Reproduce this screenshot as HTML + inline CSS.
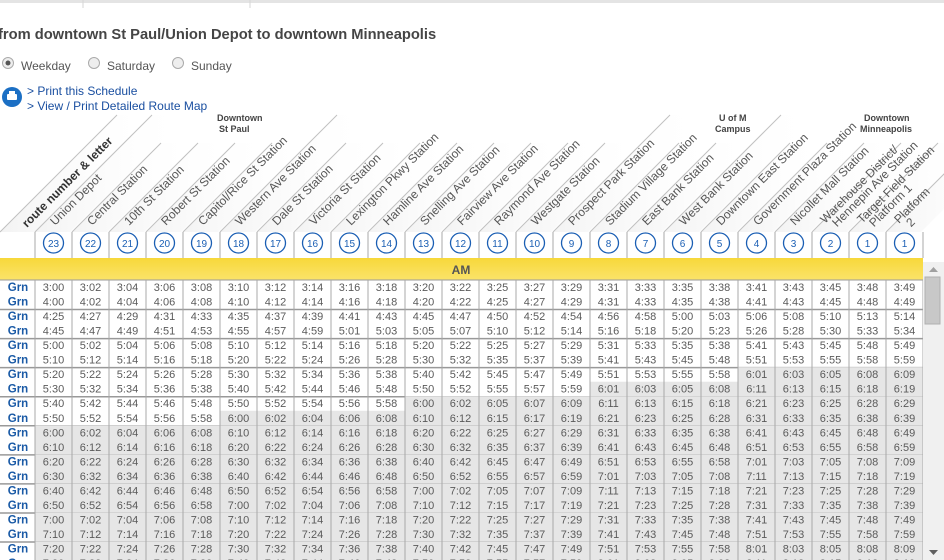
<!DOCTYPE html>
<html><head><meta charset="utf-8">
<style>
html,body{margin:0;padding:0;background:#fff;width:944px;height:560px;overflow:hidden;font-family:"Liberation Sans",Arial,sans-serif;}
svg{position:absolute;left:0;top:0;}
</style></head>
<body>
<svg id="s" width="944" height="560" viewBox="0 0 944 560">
<defs>
<linearGradient id="sh" x1="0" y1="0" x2="1" y2="0">
<stop offset="0" stop-color="#d8d8d8" stop-opacity="0.9"/><stop offset="1" stop-color="#fff" stop-opacity="0"/>
</linearGradient>
<linearGradient id="yl" x1="0" y1="0" x2="0" y2="1">
<stop offset="0" stop-color="#f7d83a"/><stop offset="1" stop-color="#fbe36a"/>
</linearGradient>
</defs>
<rect x="0" y="0" width="944" height="3" fill="#e4e4e4"/>
<line x1="83" y1="0" x2="83" y2="8" stroke="#d6d6d6"/>
<line x1="250" y1="0" x2="250" y2="8" stroke="#d6d6d6"/>
<text x="-2" y="39" font-size="14.7" font-weight="bold" fill="#454545">from downtown St Paul/Union Depot to downtown Minneapolis</text>
<g>
<circle cx="8" cy="63" r="5.5" fill="#eee" stroke="#aaa"/><circle cx="8" cy="63" r="2.5" fill="#555"/>
<text x="21" y="70" font-size="12" fill="#555">Weekday</text></g>
<g>
<circle cx="94" cy="63" r="5.5" fill="#eee" stroke="#aaa"/>
<text x="107" y="70" font-size="12" fill="#555">Saturday</text></g>
<g>
<circle cx="178" cy="63" r="5.5" fill="#eee" stroke="#aaa"/>
<text x="191" y="70" font-size="12" fill="#555">Sunday</text></g>
<g>
<circle cx="12" cy="97" r="10" fill="#1b6fc4"/>
<rect x="7" y="94" width="10" height="6" rx="1" fill="#fff"/><rect x="9" y="91" width="6" height="3" fill="#fff"/>
</g>
<text x="27" y="95" font-size="12" fill="#1a4fa0">&gt; Print this Schedule</text>
<text x="27" y="110" font-size="12" fill="#1a4fa0">&gt; View / Print Detailed Route Map</text>
<text font-size="9" font-weight="bold" fill="#444"><tspan x="217" y="121">Downtown</tspan><tspan x="219" y="132">St Paul</tspan></text>
<text font-size="9" font-weight="bold" fill="#444"><tspan x="719" y="121">U of M</tspan><tspan x="715" y="132">Campus</tspan></text>
<text font-size="9" font-weight="bold" fill="#444"><tspan x="864" y="121">Downtown</tspan><tspan x="860" y="132">Minneapolis</tspan></text>
<g id="hdr"></g>
<g id="body"></g>
<g>
<rect x="923" y="262" width="21" height="298" fill="#f0f0f0"/>
<path d="M929 272 L933.5 267 L938 272 Z" fill="#a0a0a0"/>
<rect x="925" y="277" width="15" height="47" fill="#c8c8c8" stroke="#b0b0b0"/>
<path d="M929 550 L933.5 555 L938 550 Z" fill="#606060"/>
</g>
</svg>
<script>
const stops = ["Union Depot","Central Station","10th St Station","Robert St Station","Capitol/Rice St Station","Western Ave Station","Dale St Station","Victoria St Station","Lexington Pkwy Station","Hamline Ave Station","Snelling Ave Station","Fairview Ave Station","Raymond Ave Station","Westgate Station","Prospect Park Station","Stadium Village Station","East Bank Station","West Bank Station","Downtown East Station","Government Plaza Station","Nicollet Mall Station","Warehouse District/|Hennepin Ave Station","Target Field Station|Platform 1","Platform|2"];
const stopNumbers = [23,22,21,20,19,18,17,16,15,14,13,12,11,10,9,8,7,6,5,4,3,2,1,1];
const tripStarts = ["3:00","4:00","4:25","4:45","5:00","5:10","5:20","5:30","5:40","5:50","6:00","6:10","6:20","6:30","6:40","6:50","7:00","7:10","7:20","7:30"];
const stopOffsets = [0,2,4,6,8,10,12,14,16,18,20,22,25,27,29,31,33,35,38,41,43,45,48,49];
const routeLabel = "Grn";

const NS="http://www.w3.org/2000/svg";
function mk(tag,attrs,parent){const e=document.createElementNS(NS,tag);for(const k in attrs)e.setAttribute(k,attrs[k]);parent.appendChild(e);return e;}
const X0=35, CW=37, Y0=280, RH=14.53;
const colX=i=>X0+i*CW;
const rowY=r=>Y0+r*RH;
const hdr=document.getElementById('hdr'), body=document.getElementById('body');
const longLines=[0,1,6,15,18];
for(let i=0;i<=stops.length;i++){
  const bx = i===0?0:colX(i-1);
  const L = longLines.includes(i)?117:89;
  const sh=mk('polygon',{points:`${bx},232 ${bx+L},${232-L} ${bx+L+35},${232-L} ${bx+35},232`,fill:'url(#sh)',opacity:'0.35'},hdr);
  
  
  const ln=mk('line',{x1:bx,y1:232,x2:bx+L,y2:232-L,stroke:'#c0c0c0','stroke-width':1},hdr);
  
  
}
const rl=mk('text',{x:0,y:0,'font-size':12,'font-weight':'bold',fill:'#333',transform:'translate(27,228) rotate(-45)'},hdr);
rl.textContent='route number & letter';


stops.forEach((s,i)=>{
  const x=colX(i);
  const parts=s.split('|');
  const t=mk('text',{x:0,y:0,'font-size':12,fill:'#555',transform:`translate(${x+(parts.length>1?13:20)},${parts.length>1?224:226}) rotate(-45)`},hdr);
  parts.forEach((p,k)=>{const ts=mk('tspan',{x:k*6,dy:k?11:0},t);ts.textContent=p;});
  
  
  const v=mk('line',{x1:x,y1:232,x2:x,y2:258,stroke:'#aaa'},hdr);
  
  
  const c=mk('circle',{cx:x+CW/2,cy:243,r:10,fill:'#fff',stroke:'#1b5fb4','stroke-width':1.3},hdr);
  
  
  const n=mk('text',{x:x+CW/2,y:247,'font-size':10,fill:'#1b5fb4','text-anchor':'middle'},hdr);
  n.textContent=stopNumbers[i];
  
  
});
mk('line',{x1:colX(stops.length),y1:232,x2:colX(stops.length),y2:258,stroke:'#aaa'},hdr);
const yb=mk('rect',{x:0,y:258,width:colX(stops.length),height:22,fill:'url(#yl)'},hdr);


const am=mk('text',{x:461,y:274,'font-size':12,'font-weight':'bold',fill:'#555','text-anchor':'middle'},hdr);
am.textContent='AM';


mk('line',{x1:0,y1:280,x2:colX(stops.length),y2:280,stroke:'#999'},hdr);

function toMin(s){const [h,m]=s.split(':').map(Number);return h*60+m;}
function fmt(m){const h=Math.floor(m/60),mm=m%60;return h+':'+(mm<10?'0':'')+mm;}
tripStarts.forEach((st,r)=>{
  const y=rowY(r), base=toMin(st);
  const g=mk('g',{},body);
  
  
  const rt=mk('text',{x:18,y:y+11,'font-size':11.5,'font-weight':'bold',fill:'#1a5aa6','text-anchor':'middle'},g);
  rt.textContent=routeLabel;
  
  
  stopOffsets.forEach((o,i)=>{
    const m=base+o, x=colX(i);
    if(m>=360){
      const bg=mk('rect',{x:x,y:y,width:CW,height:RH+0.5,fill:'#e6e6e6'},g);
      
      
    }
    const t=mk('text',{x:x+CW/2,y:y+11,'font-size':11,fill:'#5a5a5a','text-anchor':'middle'},g);
    t.textContent=fmt(m);
    
    
  });
  if(r%2===1){
    const hl=mk('line',{x1:0,y1:y+RH+0.5,x2:colX(stops.length),y2:y+RH+0.5,stroke:'#999','stroke-width':1.5},body);
    
    
  }
});
for(let i=0;i<=stops.length;i++){
  const v=mk('line',{x1:colX(i),y1:280,x2:colX(i),y2:560,stroke:'#a8a8a8'},body);
  
  
}
</script>
</body></html>
